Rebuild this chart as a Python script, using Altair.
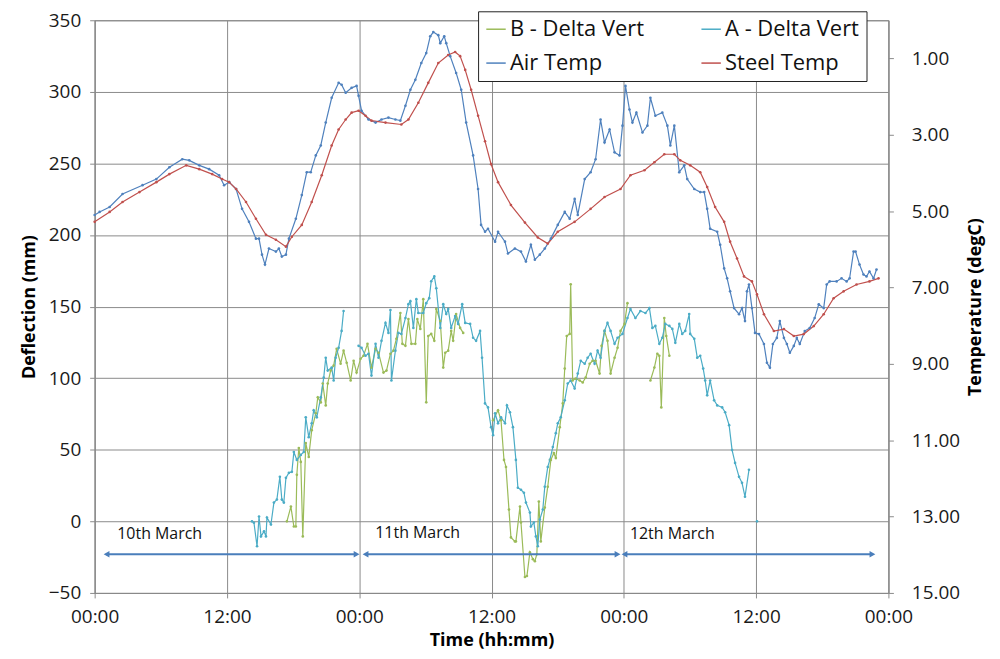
import altair as alt
import pandas as pd

FONT = "Open Sans"

# legend is laid out column by column: this order gives rows (B, A) / (Air, Steel)
SERIES = ["B - Delta Vert", "Air Temp", "A - Delta Vert", "Steel Temp"]
COLORS = ["#9bbb59", "#4f81bd", "#4bacc6", "#c0504d"]

# ---------------- Air temperature (degC) vs time (hours from 10 March 00:00)
AIR_H = [0.00, 0.45, 1.36, 2.53, 4.34, 5.60, 6.78, 7.95, 8.58, 9.49, 10.39, 11.29, 11.74, 12.20,
         12.83, 13.37, 14.00, 14.63, 14.91, 15.18, 15.45, 15.81, 16.44, 16.71, 16.98, 17.35, 17.62,
         18.25, 18.79, 19.24, 19.60, 20.06, 20.51, 20.96, 21.50, 22.13, 22.40, 22.77, 23.31, 23.76,
         23.94, 24.21, 24.84, 25.48, 26.02, 26.65, 27.28, 27.73, 28.19, 28.64, 29.09, 29.63, 30.08,
         30.44, 30.72, 31.17, 31.35, 31.71, 31.89, 32.25, 32.79, 33.25, 33.70, 34.33, 34.78, 35.05,
         35.41, 35.68, 36.32, 36.59, 37.22, 37.49, 38.12, 38.67, 39.12, 39.57, 39.93, 40.38, 40.83,
         41.38, 42.01, 42.64, 43.09, 43.54, 43.82, 44.45, 44.99, 45.44, 45.89, 46.25, 46.71, 47.16,
         47.61, 47.88, 48.15, 48.51, 48.78, 49.14, 49.69, 50.14, 50.41, 50.86, 51.49, 51.95, 52.22,
         52.58, 53.03, 53.48, 53.75, 54.39, 54.93, 55.29, 55.56, 55.83, 56.47, 56.74, 57.10, 57.37,
         57.64, 58.00, 58.45, 58.72, 58.99, 59.17, 59.35, 59.62, 59.90, 60.26, 60.71, 60.98, 61.25,
         61.52, 61.88, 62.15, 62.52, 62.79, 63.06, 63.42, 63.69, 63.96, 64.41, 64.86, 65.31, 65.68,
         66.13, 66.40, 66.67, 67.30, 67.75, 68.21, 68.48, 68.84, 69.02, 69.38, 69.74, 70.01, 70.28,
         70.65, 70.92]
AIR_T = [5.10, 5.02, 4.89, 4.55, 4.32, 4.16, 3.85, 3.64, 3.67, 3.80, 3.90, 4.06, 4.32, 4.24,
         4.42, 4.94, 5.28, 5.72, 5.72, 6.14, 6.40, 5.98, 6.06, 5.98, 6.19, 6.14, 5.72,
         5.20, 4.58, 3.98, 3.98, 3.54, 3.28, 2.68, 2.03, 1.64, 1.69, 1.90, 1.77, 1.72,
         1.98, 2.37, 2.60, 2.68, 2.60, 2.55, 2.60, 2.63, 2.24, 1.82, 1.56, 1.12, 0.86,
         0.42, 0.31, 0.39, 0.60, 0.42, 0.60, 0.94, 1.38, 1.82, 2.68, 3.54, 4.42, 5.36,
         5.54, 5.46, 5.80, 5.54, 5.80, 6.11, 5.98, 6.06, 6.32, 5.88, 6.27, 6.14, 5.98,
         5.72, 5.36, 5.02, 5.20, 4.68, 5.10, 4.16, 3.98, 3.64, 2.60, 3.20, 2.86, 3.46,
         3.54, 2.76, 1.72, 2.34, 2.68, 2.42, 2.94, 2.76, 2.03, 2.50, 2.42, 2.76, 3.28,
         2.76, 3.98, 3.80, 4.16, 4.42, 4.50, 4.50, 4.94, 5.46, 5.54, 5.88, 6.50, 6.76,
         7.10, 7.54, 7.70, 7.54, 7.88, 7.10, 6.92, 7.54, 8.19, 8.22, 8.48, 8.97, 9.10,
         8.48, 8.32, 7.88, 8.32, 8.48, 8.71, 8.53, 8.32, 8.48, 8.14, 8.06, 7.80, 7.44,
         7.54, 6.92, 6.84, 6.84, 6.76, 6.84, 6.76, 6.06, 6.06, 6.40, 6.66, 6.71, 6.58,
         6.76, 6.53]

# ---------------- Steel temperature (degC)
STEEL_H = [0.00, 1.36, 2.53, 4.07, 5.60, 6.78, 8.31, 9.49, 10.66, 11.56, 12.20, 12.83, 13.73,
           14.63, 15.54, 16.44, 17.35, 17.89, 18.79, 19.69, 20.60, 21.50, 22.13, 22.77, 23.31,
           23.94, 24.57, 25.11, 26.38, 27.82, 28.46, 29.36, 30.26, 31.17, 32.07, 32.70, 33.15,
           33.61, 34.15, 34.78, 35.41, 35.96, 36.59, 37.76, 39.03, 40.20, 41.10, 42.01, 43.54,
           44.99, 46.25, 47.70, 48.60, 49.87, 50.77, 51.67, 52.58, 53.12, 54.02, 54.93, 55.56,
           56.28, 57.10, 57.64, 58.27, 58.90, 59.62, 60.08, 60.71, 61.61, 62.52, 63.42, 64.32,
           65.23, 66.13, 67.03, 67.94, 69.11, 70.28, 71.10]
STEEL_T = [5.28, 5.02, 4.76, 4.50, 4.24, 4.03, 3.80, 3.90, 4.03, 4.16, 4.24, 4.42, 4.76,
           5.20, 5.62, 5.75, 5.93, 5.67, 5.36, 4.76, 4.06, 3.28, 2.86, 2.60, 2.42,
           2.37, 2.50, 2.63, 2.68, 2.73, 2.60, 2.16, 1.64, 1.12, 0.91, 0.83, 0.94,
           1.30, 1.82, 2.50, 3.17, 3.77, 4.24, 4.84, 5.30, 5.69, 5.85, 5.54, 5.28,
           4.94, 4.63, 4.42, 4.06, 3.93, 3.72, 3.51, 3.51, 3.67, 3.80, 3.98, 4.37,
           4.89, 5.28, 5.80, 6.24, 6.71, 6.84, 7.18, 7.70, 8.14, 8.09, 8.27, 8.22,
           8.01, 7.70, 7.28, 7.10, 6.92, 6.84, 6.76]

# ---------------- A - Delta Vert (mm), three recorded segments
A1_H = [14.27, 14.45, 14.73, 14.91, 15.09, 15.36, 15.54, 15.63, 15.99, 16.26, 16.53, 16.80, 16.98,
        17.16, 17.35, 17.62, 17.89, 18.07, 18.34, 18.70, 18.97, 19.15, 19.42, 19.69, 19.87, 20.15,
        20.51, 20.78, 20.96, 21.14, 21.50, 21.68, 21.86, 22.13, 22.40, 22.58]
A1_MM = [0.0, -1.0, -17.4, 3.4, -10.5, -7.0, -10.5, 2.7, -2.2, 13.1, 15.2, 31.1, 15.2,
         13.1, 30.4, 33.9, 34.6, 48.4, 42.9, 46.4, 48.4, 72.7, 58.8, 68.5, 77.6, 72.7,
         86.6, 100.4, 114.3, 105.3, 107.4, 98.4, 114.3, 121.2, 133.0, 146.9]
A2_H = [23.94, 24.21, 24.57, 24.84, 25.11, 25.48, 25.75, 26.02, 26.38, 26.65, 26.83, 26.92, 27.28,
        27.55, 27.82, 28.19, 28.46, 28.64, 28.91, 29.18, 29.36, 29.81, 30.08, 30.35, 30.53, 30.81,
        30.99, 31.35, 31.62, 31.89, 32.07, 32.34, 32.70, 32.97, 33.34, 33.61, 34.06, 34.33, 34.60,
        34.96, 35.14, 35.41, 35.68, 35.96, 36.14, 36.32, 36.59, 36.86, 37.22, 37.40, 37.67, 37.94,
        38.21, 38.39, 38.67, 38.94, 39.12, 39.48, 39.57, 39.84, 40.02, 40.20, 40.38, 40.65, 40.83,
        41.10, 41.29, 41.56, 41.83, 42.01, 42.28, 42.64, 42.91, 43.18, 43.54, 43.82, 44.09, 44.45,
        44.72, 44.99, 45.35, 45.62, 45.89, 46.25, 46.52, 46.80, 47.16, 47.43, 47.88, 48.33, 48.60,
        49.05, 49.50, 49.96, 50.32, 50.59, 50.86, 51.22, 51.49, 51.76, 52.13, 52.40, 52.67, 53.03,
        53.30, 53.57, 53.93, 54.02, 54.39, 54.66, 54.93, 55.20, 55.38, 55.56, 55.83, 56.19, 56.47,
        56.92, 57.19, 57.55, 57.82, 58.09, 58.45, 58.72, 58.99, 59.35]
A2_MM = [122.6, 121.2, 115.7, 117.1, 101.8, 124.0, 114.3, 126.1, 138.6, 131.6, 147.6, 98.4, 119.2,
         131.6, 130.9, 142.0, 151.7, 153.8, 135.1, 155.2, 145.5, 145.5, 152.4, 155.9, 167.7, 171.1,
         162.8, 135.1, 151.7, 144.8, 148.3, 135.1, 143.4, 137.9, 151.7, 138.6, 137.9, 128.2, 126.1,
         133.0, 114.3, 82.4, 79.6, 65.8, 60.2, 75.5, 68.5, 72.7, 68.5, 81.0, 76.2, 65.8,
         42.9, 23.5, 22.1, 20.0, 13.1, 6.1, -3.6, -0.8, -10.5, -17.4, 1.3, 8.2, 24.2,
         38.0, 42.9, 51.9, 61.6, 68.5, 72.7, 84.5, 96.3, 98.4, 92.8, 103.2, 112.2, 110.1,
         114.3, 117.1, 110.1, 119.2, 114.3, 133.0, 138.6, 133.0, 124.0, 128.2, 130.9, 142.0, 148.3,
         142.0, 146.9, 145.5, 149.0, 135.1, 136.5, 124.0, 128.2, 137.9, 136.5, 134.4, 124.7, 137.9,
         130.9, 133.0, 144.8, 130.9, 127.5, 114.3, 115.7, 106.7, 98.4, 88.0, 98.4, 84.5, 81.0,
         79.6, 76.2, 67.2, 49.8, 40.8, 31.1, 26.9, 17.2, 36.0]
A3_H = [60.08]
A3_MM = [0.0]

# ---------------- B - Delta Vert (mm), three recorded segments
B1_H = [17.44, 17.80, 18.07, 18.25, 18.34, 18.52, 18.70, 18.88, 19.15, 19.42, 19.69, 20.06, 20.24,
        20.51, 20.69, 20.96, 21.14, 21.41, 21.68, 21.95, 22.31, 22.58, 22.86, 23.22, 23.49, 23.76,
        24.12, 24.39, 24.75, 25.11, 25.48, 25.75, 26.20, 26.47, 26.83, 27.10, 27.37, 27.73, 27.91,
        28.19, 28.46, 28.73, 29.09, 29.27, 29.54, 29.81, 30.08, 30.26, 30.53, 30.81, 30.99, 31.35,
        31.62, 31.80, 32.07, 32.34, 32.52, 32.79, 33.15, 33.43]
B1_MM = [0.0, 10.3, -3.6, -3.6, 32.5, 51.2, 41.5, -10.5, 54.7, 45.0, 63.7, 75.5, 86.6,
         83.1, 96.3, 81.0, 96.3, 105.3, 108.8, 120.5, 110.1, 119.2, 110.8, 98.4, 112.2, 103.9,
         113.6, 115.7, 124.0, 107.4, 120.5, 117.8, 103.9, 105.3, 117.1, 119.2, 127.5, 145.5, 124.0,
         122.6, 141.3, 124.0, 124.0, 141.3, 134.4, 155.2, 83.1, 129.5, 130.9, 126.1, 148.3, 139.9,
         107.4, 117.8, 119.2, 133.0, 126.1, 144.8, 135.1, 131.6]
B2_H = [36.14, 36.59, 36.86, 37.13, 37.31, 37.58, 37.76, 38.12, 38.21, 38.58, 38.67, 39.03, 39.21,
        39.48, 39.75, 39.93, 40.11, 40.29, 40.47, 40.83, 41.10, 41.38, 41.65, 41.83, 42.19, 42.46,
        42.64, 42.82, 43.09, 43.18, 43.36, 43.63, 44.00, 44.27, 44.54, 44.90, 45.17, 45.44, 45.80,
        45.98, 46.25, 46.52, 46.80, 47.16, 47.43, 47.70, 48.06, 48.33]
B2_MM = [70.6, 77.6, 70.6, 42.9, 38.0, 8.2, -11.2, -14.0, -14.0, 10.3, -0.8, -38.9, -38.2,
         -21.6, -26.4, -27.8, -23.0, 13.8, -14.0, 9.6, 24.2, 42.9, 47.7, 44.3, 65.8, 82.4,
         106.7, 129.5, 130.9, 165.6, 98.4, 99.7, 98.4, 97.0, 100.4, 110.1, 112.2, 112.2, 103.2,
         122.6, 133.0, 126.1, 103.2, 114.3, 121.2, 133.0, 137.9, 152.4]
B3_H = [50.41, 50.77, 51.04, 51.22, 51.40, 51.67, 51.85, 52.13]
B3_MM = [98.4, 107.4, 117.1, 115.7, 79.6, 142.0, 129.5, 115.7]

# ---------------- day annotations (hours, mm)
DAY_LABELS = ["10th March", "11th March", "12th March"]
DAY_LABEL_H = [5.9, 29.3, 52.4]
DAY_LABEL_MM = [-9.0, -8.0, -9.0]
SPAN_START_H = [1.08, 24.57, 48.06]
SPAN_END_H = [23.76, 47.43, 70.55]
SPAN_MM = [-23.0, -23.0, -23.0]

X_TICKS = [0, 12, 24, 36, 48, 60, 72]
Y_TICKS = [-50, 0, 50, 100, 150, 200, 250, 300, 350]
T_TICKS = [1, 3, 5, 7, 9, 11, 13, 15]

# ---------------- tables
def seg_rows(series, segs, col):
    rows = []
    for i, (hs, vs) in enumerate(segs):
        for h, v in zip(hs, vs):
            rows.append({"hours": h, col: v, "series": series, "seg": f"{series}-{i}"})
    return rows

defl = pd.DataFrame(
    seg_rows("B - Delta Vert", [(B1_H, B1_MM), (B2_H, B2_MM), (B3_H, B3_MM)], "mm")
    + seg_rows("A - Delta Vert", [(A1_H, A1_MM), (A2_H, A2_MM), (A3_H, A3_MM)], "mm")
)
temps = pd.DataFrame(
    seg_rows("Air Temp", [(AIR_H, AIR_T)], "temp") + seg_rows("Steel Temp", [(STEEL_H, STEEL_T)], "temp")
)
spans = pd.DataFrame({"h": SPAN_START_H, "h2": SPAN_END_H, "mm": SPAN_MM})
heads = pd.DataFrame({
    "hours": SPAN_START_H + SPAN_END_H,
    "mm": SPAN_MM + SPAN_MM,
    "dir": ["left"] * 3 + ["right"] * 3,
})
labels = pd.DataFrame({"hours": DAY_LABEL_H, "mm": DAY_LABEL_MM, "text": DAY_LABELS})

GRID = "#8a8a8a"

x_enc = alt.X(
    "hours:Q",
    scale=alt.Scale(domain=[0, 72], nice=False, zero=False),
    axis=alt.Axis(
        values=X_TICKS,
        labelExpr="(datum.value % 24 < 10 ? '0' : '') + (datum.value % 24) + ':00'",
        title="Time (hh:mm)",
        grid=True,
        labelFlush=False,
        labelPadding=10,
        titlePadding=5,
    ),
)
y_scale = alt.Scale(domain=[-50, 350], nice=False, zero=False)
y_axis = alt.Axis(values=Y_TICKS, title="Deflection (mm)", grid=True, labelPadding=9, titlePadding=10)

color_enc = alt.Color(
    "series:N",
    scale=alt.Scale(domain=SERIES, range=COLORS),
    legend=alt.Legend(
        title=None,
        orient="none",
        legendX=385,
        legendY=-9,
        columns=2,
        symbolType="stroke",
        symbolSize=380,
        symbolStrokeWidth=1.5,
        labelFontSize=22,
        labelFont=FONT,
        labelColor="#111111",
        labelOffset=3,
        columnPadding=54,
        rowPadding=12,
        padding=7,
        strokeColor="#222222",
        fillColor="white",
        labelLimit=400,
    ),
)

lines_defl = alt.Chart(defl).mark_line(
    strokeWidth=1.2, point=alt.OverlayMarkDef(filled=True, size=7)
).encode(
    x=x_enc,
    y=alt.Y("mm:Q", scale=y_scale, axis=y_axis),
    color=color_enc,
    detail="seg:N",
    order="hours:Q",
)

rules = alt.Chart(spans).mark_rule(color="#4a7ebb", strokeWidth=2).encode(
    x=alt.X("h:Q"), x2="h2:Q", y=alt.Y("mm:Q")
)

arrow_heads = alt.Chart(heads).mark_point(filled=True, size=45, opacity=1, color="#4a7ebb").encode(
    x=alt.X("hours:Q"),
    y=alt.Y("mm:Q"),
    shape=alt.Shape("dir:N", scale=alt.Scale(domain=["left", "right"], range=["triangle-left", "triangle-right"]), legend=None),
)

day_text = alt.Chart(labels).mark_text(fontSize=16, font=FONT, color="#111111").encode(
    x=alt.X("hours:Q"), y=alt.Y("mm:Q"), text="text:N"
)

defl_layer = alt.layer(lines_defl, rules, arrow_heads, day_text)

temp_layer = alt.Chart(temps).mark_line(
    strokeWidth=1.2, point=alt.OverlayMarkDef(filled=True, size=7)
).encode(
    x=x_enc,
    y=alt.Y(
        "temp:Q",
        scale=alt.Scale(domain=[0, 15], reverse=True, nice=False, zero=False),
        axis=alt.Axis(
            orient="right",
            values=T_TICKS,
            format=".2f",
            title="Temperature (degC)",
            grid=False,
            titleAngle=270,
            titleBaseline="top",
            labelPadding=18,
            titlePadding=7,
        ),
    ),
    color=color_enc,
    detail="seg:N",
    order="hours:Q",
)

chart = (
    alt.layer(defl_layer, temp_layer)
    .resolve_scale(y="independent")
    .properties(
        width=797,
        height=575,
        autosize=alt.AutoSizeParams(type="none"),
        padding={"left": 87, "top": 11, "right": 104, "bottom": 58},
        background="white",
    )
    .configure_axis(
        labelFont=FONT,
        titleFont=FONT,
        labelFontSize=19,
        titleFontSize=18,
        titleFontWeight="bold",
        labelColor="#1a1a1a",
        titleColor="#000000",
        gridColor=GRID,
        gridWidth=1,
        domainColor=GRID,
        tickColor=GRID,
        tickSize=5,
    )
    .configure_view(stroke=GRID)
)

chart.save("out.html", embed_options={"renderer": "svg", "actions": False})
